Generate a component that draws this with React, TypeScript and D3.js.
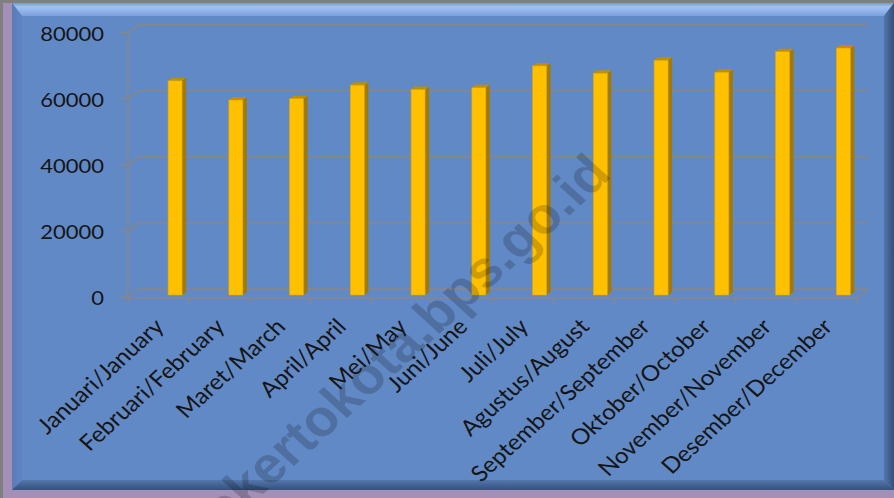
import React from "react";
import * as d3 from "d3";

const categories = [
  "Januari/January",
  "Februari/February",
  "Maret/March",
  "April/April",
  "Mei/May",
  "Juni/June",
  "Juli/July",
  "Agustus/August",
  "September/September",
  "Oktober/October",
  "November/November",
  "Desember/December",
];
const values = [64700, 58900, 59300, 63400, 62100, 62600, 69200, 67000, 70900, 67300, 73500, 74600];
const yTicks = [0, 20000, 40000, 60000, 80000];
const watermark = "mojokertokota.bps.go.id";

const W = 894;
const H = 498;

export default function App() {
  const left = 128;
  const right = 857;
  const ddx = 11;
  const ddy = -8;
  const yFront = d3.scaleLinear().domain([0, 80000]).range([297, 32.7]);
  const yBar = d3.scaleLinear().domain([0, 80000]).range([295, 30.2]);
  const x = d3.scaleBand<string>().domain(categories).range([left, right]).padding(0);
  const bw = x.bandwidth();
  const barOff = bw * 0.66;
  const barW = bw * 0.23;
  const sdx = 4;
  const sdy = -3;
  const grid = "#878787";

  const p0x = 12, p0y = 3, p1x = 894, p1y = 490, b = 10;

  return (
    <svg
      width={W}
      height={H}
      viewBox={`0 0 ${W} ${H}`}
      style={{ position: "absolute", left: 0, top: 0, display: "block" }}
      fontFamily="Lato, 'Open Sans', sans-serif"
    >
      <defs>
        <linearGradient id="topBevel" x1="0" y1="0" x2="0" y2="1">
          <stop offset="0" stopColor="#7199d8" />
          <stop offset="0.3" stopColor="#a3c2f5" />
          <stop offset="1" stopColor="#7aa0dc" />
        </linearGradient>
        <linearGradient id="botBevel" x1="0" y1="0" x2="0" y2="1">
          <stop offset="0" stopColor="#5577ad" />
          <stop offset="1" stopColor="#34507c" />
        </linearGradient>
        <linearGradient id="rightBevel" x1="0" y1="0" x2="1" y2="0">
          <stop offset="0" stopColor="#5476ab" />
          <stop offset="1" stopColor="#34507c" />
        </linearGradient>
        <linearGradient id="leftBevel" x1="0" y1="0" x2="1" y2="0">
          <stop offset="0" stopColor="#5a7cb6" />
          <stop offset="1" stopColor="#5f85c1" />
        </linearGradient>
        <clipPath id="panelClip">
          <rect x={0} y={0} width={W} height={H} />
        </clipPath>
      </defs>
      {/* outer frame */}
      <rect x={0} y={0} width={W} height={H} fill="#a48fb6" />
      <rect x={0} y={0} width={W} height={3} fill="#7f7f7f" />
      <rect x={0} y={0} width={3} height={H} fill="#7f7f7f" />
      {/* panel */}
      <rect x={p0x} y={p0y} width={p1x - p0x} height={p1y - p0y} fill="#6189c5" />
      <polygon
        points={`${p0x},${p0y} ${p1x},${p0y} ${p1x - b},${p0y + b + 3} ${p0x + b},${p0y + b + 3}`}
        fill="url(#topBevel)"
      />
      <polygon
        points={`${p0x},${p0y} ${p0x + b},${p0y + b + 3} ${p0x + b},${p1y - b} ${p0x},${p1y}`}
        fill="url(#leftBevel)"
      />
      <polygon
        points={`${p0x},${p1y} ${p0x + b},${p1y - b} ${p1x - b},${p1y - b} ${p1x},${p1y}`}
        fill="url(#botBevel)"
      />
      <polygon
        points={`${p1x},${p0y} ${p1x},${p1y} ${p1x - b},${p1y - b} ${p1x - b},${p0y + b + 3}`}
        fill="url(#rightBevel)"
      />

      {/* gridlines (back wall) with depth diagonals */}
      {yTicks.map((t) => {
        const yf = yFront(t);
        return (
          <g key={t} stroke={grid} strokeWidth={1.5} fill="none">
            <line x1={left - 8} y1={yf} x2={left} y2={yf} />
            <line x1={left} y1={yf} x2={left + ddx} y2={yf + ddy} />
            <line x1={left + ddx} y1={yf + ddy} x2={right + ddx} y2={yf + ddy} />
          </g>
        );
      })}
      {/* floor front edge */}
      <g stroke={grid} strokeWidth={1.5} fill="none">
        <line x1={left} y1={yFront(0) + 1} x2={right} y2={yFront(0) + 1} />
        <line x1={right} y1={yFront(0) + 1} x2={right + ddx} y2={yFront(0) + ddy} />
        <line x1={left} y1={yFront(80000)} x2={left} y2={yFront(0) + 7} />
        {categories.map((c) => (
          <line key={c} x1={(x(c) as number) + bw} y1={yFront(0) + 1} x2={(x(c) as number) + bw} y2={yFront(0) + 7} />
        ))}
      </g>

      {/* y labels */}
      {yTicks.map((t) => (
        <text
          key={t}
          transform={`translate(104,${yFront(t)}) scale(1.1,1)`}
          textAnchor="end"
          dominantBaseline="central"
          fontSize={20}
          fill="#151515"
        >
          {t}
        </text>
      ))}

      {/* bars */}
      {categories.map((c, i) => {
        const bx = (x(c) as number) + barOff;
        const top = yBar(values[i]);
        const bot = yBar(0);
        return (
          <g key={c}>
            <polygon
              points={`${bx + barW},${top} ${bx + barW + sdx},${top + sdy} ${bx + barW + sdx},${bot + sdy} ${bx + barW},${bot}`}
              fill="#a27a00"
            />
            <polygon
              points={`${bx},${top} ${bx + sdx},${top + sdy} ${bx + barW + sdx},${top + sdy} ${bx + barW},${top}`}
              fill="#bf8f00"
            />
            <rect x={bx} y={top} width={barW} height={bot - top} fill="#ffc000" stroke="#e0a800" strokeWidth={0.6} />
          </g>
        );
      })}

      {/* watermark */}
      <g clipPath="url(#panelClip)">
        <text
          transform={`translate(613,176) scale(1.1,1) rotate(-45)`}
          textAnchor="end"
          fontSize={51}
          fontWeight="bold"
          fontFamily="'Liberation Sans', Arial, sans-serif"
          fill="#000"
          opacity={0.18}
        >
          {watermark}
        </text>
      </g>

      {/* category labels */}
      {categories.map((c) => (
        <text
          key={c}
          transform={`translate(${(x(c) as number) + bw / 2 + 7},${328}) scale(1.1,1) rotate(-45)`}
          textAnchor="end"
          fontSize={22}
          fill="#151515"
        >
          {c}
        </text>
      ))}
    </svg>
  );
}
